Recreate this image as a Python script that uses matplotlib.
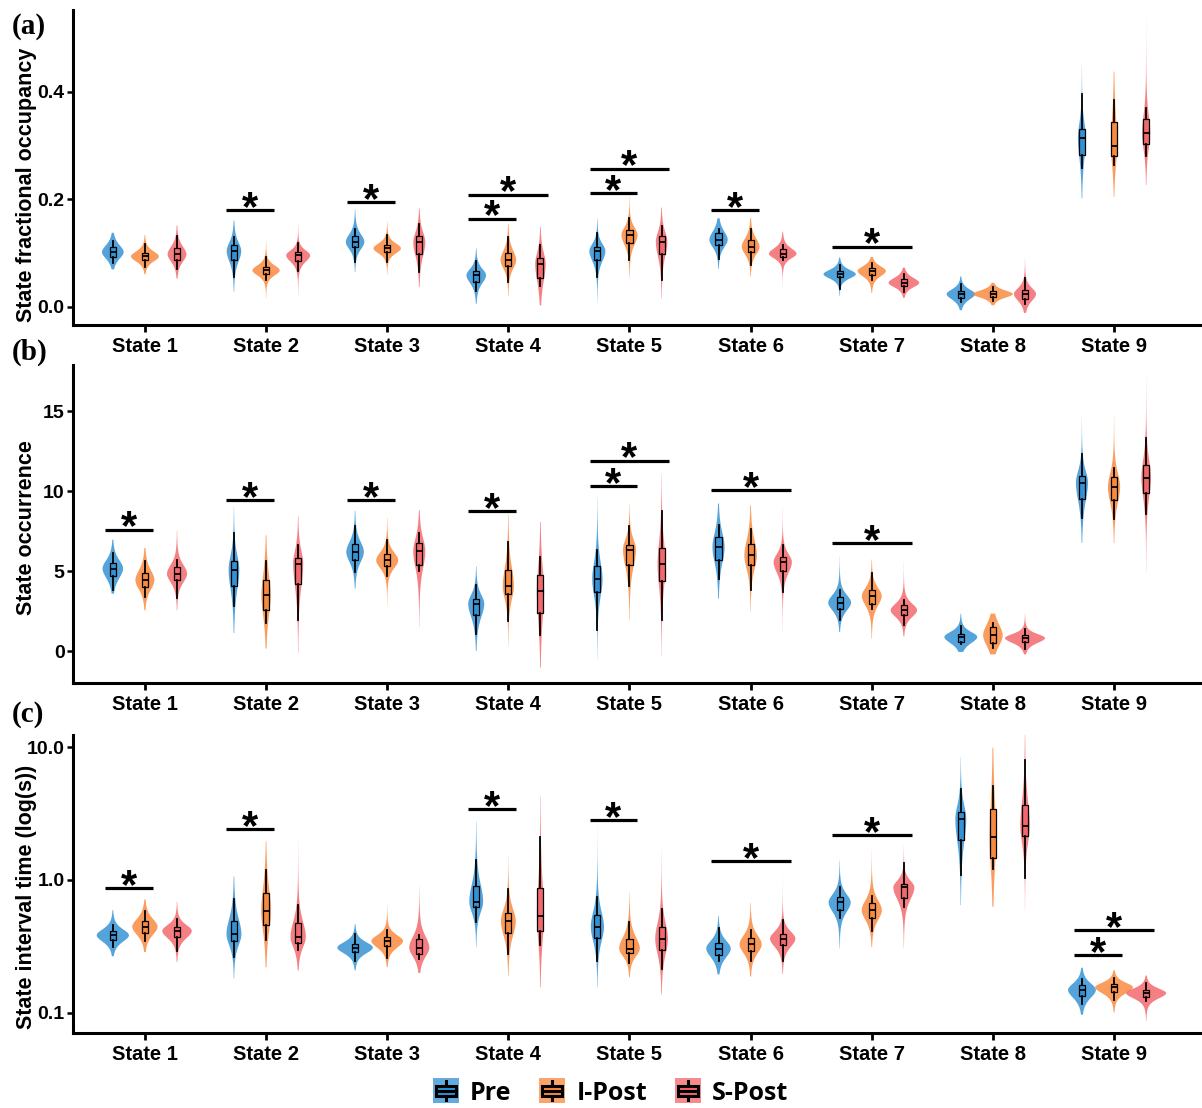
"""Three-panel violin + box chart of HMM state metrics (Pre / I-Post / S-Post)."""
import numpy as np
import matplotlib
matplotlib.use("Agg")
import matplotlib.pyplot as plt
from matplotlib.patches import Rectangle, Patch
from matplotlib.lines import Line2D
from matplotlib.legend_handler import HandlerBase
from matplotlib.colors import to_rgba

plt.rcParams["font.family"] = ["Liberation Sans", "DejaVu Sans"]
plt.rcParams["font.weight"] = "bold"

STATES = [f"State {i}" for i in range(1, 10)]
GROUPS = ["Pre", "I-Post", "S-Post"]
COLORS = ["#2F8FD3", "#F8873A", "#F26469"]

# each violin: (violin min, whisker lo, q1, median, q3, whisker hi, violin max), one per state
FO_PRE = [(0.070, 0.081, 0.093, 0.102, 0.112, 0.123, 0.138), (0.028, 0.055, 0.088, 0.104, 0.115, 0.130, 0.161),
          (0.065, 0.084, 0.111, 0.121, 0.132, 0.146, 0.181), (0.006, 0.029, 0.047, 0.059, 0.067, 0.086, 0.109),
          (0.009, 0.056, 0.088, 0.104, 0.112, 0.138, 0.165), (0.071, 0.090, 0.115, 0.125, 0.137, 0.146, 0.165),
          (0.020, 0.034, 0.055, 0.061, 0.067, 0.078, 0.092), (-0.006, 0.009, 0.016, 0.024, 0.030, 0.043, 0.057),
          (0.202, 0.258, 0.283, 0.314, 0.332, 0.396, 0.450)]
FO_IPOST = [(0.061, 0.075, 0.087, 0.094, 0.101, 0.117, 0.134), (0.016, 0.050, 0.061, 0.068, 0.075, 0.093, 0.127),
            (0.061, 0.084, 0.102, 0.109, 0.116, 0.134, 0.158), (0.020, 0.047, 0.076, 0.087, 0.101, 0.130, 0.155),
            (0.053, 0.088, 0.119, 0.134, 0.143, 0.165, 0.205), (0.057, 0.078, 0.102, 0.112, 0.124, 0.146, 0.165),
            (0.026, 0.051, 0.059, 0.067, 0.073, 0.082, 0.093), (0.003, 0.011, 0.019, 0.024, 0.029, 0.037, 0.045),
            (0.205, 0.264, 0.280, 0.300, 0.345, 0.385, 0.438)]
FO_SPOST = [(0.053, 0.071, 0.088, 0.098, 0.109, 0.132, 0.152), (0.017, 0.067, 0.086, 0.096, 0.102, 0.119, 0.154),
            (0.037, 0.065, 0.099, 0.120, 0.132, 0.154, 0.183), (0.003, 0.039, 0.053, 0.080, 0.092, 0.115, 0.149),
            (0.016, 0.050, 0.098, 0.121, 0.132, 0.150, 0.185), (0.037, 0.088, 0.093, 0.099, 0.107, 0.116, 0.140),
            (0.017, 0.028, 0.039, 0.045, 0.052, 0.061, 0.073), (-0.011, 0.006, 0.014, 0.024, 0.032, 0.053, 0.090),
            (0.227, 0.280, 0.303, 0.323, 0.350, 0.371, 0.540)]

OC_PRE = [(3.59, 3.80, 4.68, 5.16, 5.53, 6.14, 6.97), (1.13, 2.80, 4.05, 5.09, 5.64, 7.39, 9.02),
          (3.90, 4.95, 5.72, 6.20, 6.68, 7.83, 8.77), (0.00, 1.09, 2.23, 2.96, 3.28, 4.11, 5.30),
          (-0.54, 1.34, 3.70, 4.49, 5.30, 6.35, 9.60), (3.28, 4.53, 5.72, 6.51, 7.14, 7.87, 9.23),
          (1.19, 1.92, 2.65, 3.03, 3.38, 3.80, 5.89), (-0.06, 0.46, 0.56, 0.88, 1.09, 1.54, 2.34),
          (6.76, 8.35, 9.54, 10.54, 10.94, 12.36, 14.60)]
OC_IPOST = [(2.55, 3.38, 4.01, 4.43, 4.91, 5.62, 6.45), (0.15, 1.75, 2.55, 3.49, 4.43, 5.64, 7.24),
            (2.86, 4.68, 5.30, 5.68, 6.05, 6.93, 8.35), (0.29, 1.88, 3.55, 4.05, 5.05, 6.83, 8.56),
            (1.92, 4.05, 5.37, 6.35, 6.66, 7.83, 9.23), (2.44, 3.84, 5.37, 5.99, 6.72, 7.66, 9.12),
            (0.77, 2.65, 2.96, 3.44, 3.80, 4.89, 5.72), (-0.21, 0.21, 0.50, 0.98, 1.50, 1.75, 2.34),
            (6.76, 8.29, 9.48, 10.27, 10.86, 11.48, 14.76)]
OC_SPOST = [(2.55, 3.34, 4.43, 4.84, 5.26, 5.68, 7.56), (-0.13, 1.96, 4.18, 5.47, 5.85, 6.62, 8.43),
            (1.50, 5.01, 5.37, 6.24, 6.76, 7.39, 8.81), (-1.04, 0.98, 2.38, 3.74, 4.74, 5.89, 8.08),
            (-0.33, 1.92, 4.38, 5.43, 6.45, 8.77, 11.10), (1.19, 3.70, 4.99, 5.57, 5.89, 6.62, 9.02),
            (0.92, 1.61, 2.23, 2.55, 2.86, 3.22, 5.57), (-0.21, 0.15, 0.56, 0.81, 0.98, 1.40, 2.34),
            (4.95, 8.56, 9.90, 10.84, 11.63, 13.30, 17.06)]

IT_PRE = [(0.267, 0.313, 0.352, 0.384, 0.414, 0.457, 0.593), (0.181, 0.264, 0.348, 0.391, 0.493, 0.718, 1.06),
          (0.209, 0.246, 0.287, 0.310, 0.332, 0.395, 0.465), (0.313, 0.484, 0.621, 0.686, 0.901, 1.42, 2.76),
          (0.156, 0.246, 0.369, 0.444, 0.544, 0.748, 2.53), (0.195, 0.246, 0.271, 0.305, 0.336, 0.439, 0.535),
          (0.305, 0.522, 0.593, 0.678, 0.748, 0.891, 1.40), (0.647, 1.09, 2.01, 2.87, 3.23, 4.84, 8.45),
          (0.097, 0.116, 0.133, 0.149, 0.161, 0.181, 0.219)]
IT_IPOST = [(0.287, 0.348, 0.400, 0.444, 0.493, 0.583, 0.714), (0.221, 0.356, 0.457, 0.587, 0.793, 1.19, 1.95),
            (0.221, 0.261, 0.317, 0.348, 0.373, 0.419, 0.647), (0.191, 0.279, 0.400, 0.490, 0.566, 0.850, 1.55),
            (0.186, 0.237, 0.282, 0.305, 0.362, 0.484, 0.802), (0.188, 0.246, 0.292, 0.328, 0.369, 0.424, 0.674),
            (0.313, 0.414, 0.522, 0.593, 0.674, 0.757, 1.71), (0.629, 1.20, 1.46, 2.10, 3.42, 5.07, 9.88),
            (0.101, 0.125, 0.143, 0.156, 0.164, 0.184, 0.209)]
IT_SPOST = [(0.242, 0.292, 0.373, 0.414, 0.444, 0.505, 0.686), (0.209, 0.296, 0.336, 0.373, 0.471, 0.647, 1.95),
            (0.200, 0.256, 0.279, 0.310, 0.362, 0.384, 0.891), (0.156, 0.323, 0.414, 0.535, 0.865, 2.10, 4.31),
            (0.138, 0.215, 0.296, 0.362, 0.444, 0.600, 1.69), (0.197, 0.246, 0.323, 0.362, 0.395, 0.499, 1.14),
            (0.310, 0.629, 0.727, 0.881, 0.927, 1.35, 1.81), (0.586, 1.03, 2.13, 2.56, 3.69, 7.98, 13.8),
            (0.087, 0.124, 0.131, 0.141, 0.149, 0.168, 0.191)]

# significance bars: (state, group a, group b, bar height)
FO_SIG = [(2, 0, 1, 0.180), (3, 0, 1, 0.195), (4, 0, 1, 0.164), (4, 0, 2, 0.209),
          (5, 0, 1, 0.212), (5, 0, 2, 0.257), (6, 0, 1, 0.180), (7, 0, 2, 0.112)]
OC_SIG = [(1, 0, 1, 7.6), (2, 0, 1, 9.44), (3, 0, 1, 9.44), (4, 0, 1, 8.75),
          (5, 0, 1, 10.3), (5, 0, 2, 11.9), (6, 0, 2, 10.06), (7, 0, 2, 6.75)]
IT_SIG = [(1, 0, 1, 0.87), (2, 0, 1, 2.42), (4, 0, 1, 3.42), (5, 0, 1, 2.83),
          (6, 0, 2, 1.39), (7, 0, 2, 2.18), (9, 0, 1, 0.273), (9, 0, 2, 0.42)]

DODGE, MAXHW, BOXW = 0.265, 0.165, 0.05
XLIM = (0.406, 9.726)


def density(s, log):
    """smooth violin outline in plot space built from the read-off summary stats"""
    v = np.log10(s) if log else np.asarray(s, float)
    vmin, _, q1, med, q3, _, vmax = v
    half = (q3 - q1) / 2
    s_lo = ((med - q1) + half) / 2 / 0.674
    s_hi = ((q3 - med) + half) / 2 / 0.674
    t = np.linspace(vmin, vmax, 300)
    z = np.where(t < med, (med - t) / s_lo, (t - med) / s_hi)
    d = (1 + z ** 2 / 4) ** -2.5
    d /= np.trapezoid(d, t)
    return (10 ** t if log else t), d


def panel(ax, groups, sig, log, ylabel, label_y):
    shapes = [[density(s, log) for s in g] for g in groups]
    peak = max(d.max() for g in shapes for _, d in g)
    base = np.arange(1, 10)
    for gi, (g, sh) in enumerate(zip(groups, shapes)):
        pos = base + (gi - 1) * DODGE
        vp = [dict(coords=c, vals=d, mean=s[3], median=s[3], min=s[0], max=s[6])
              for s, (c, d) in zip(g, sh)]
        widths = [2 * MAXHW * d.max() / peak for _, d in sh]
        parts = ax.violin(vp, positions=pos, widths=widths, showmeans=False,
                          showextrema=False, showmedians=False)
        for b in parts["bodies"]:
            b.set_facecolor(COLORS[gi]); b.set_edgecolor("none"); b.set_alpha(0.82)
        bst = [dict(whislo=s[1], q1=s[2], med=s[3], q3=s[4], whishi=s[5], fliers=[]) for s in g]
        bp = ax.bxp(bst, positions=pos, widths=BOXW, patch_artist=True, showfliers=False,
                    showcaps=False, manage_ticks=False,
                    boxprops=dict(edgecolor="k", linewidth=0.9),
                    medianprops=dict(color="k", linewidth=1.3),
                    whiskerprops=dict(color="k", linewidth=1.3))
        for b in bp["boxes"]:
            b.set_facecolor(to_rgba(COLORS[gi], 0.85))
    for st, a, b, y in sig:
        x1, x2 = st + (a - 1) * DODGE - 0.065, st + (b - 1) * DODGE + 0.065
        ax.plot([x1, x2], [y, y], color="k", lw=2.3, solid_capstyle="butt")
        ax.annotate("*", ((x1 + x2) / 2, y), xytext=(0, -7), textcoords="offset points",
                    ha="center", va="baseline", fontsize=30, fontweight="bold")
    ax.set_xlim(*XLIM)
    ax.set_xticks(base, STATES)
    for sp in ("top", "right"):
        ax.spines[sp].set_visible(False)
    for sp in ("left", "bottom"):
        ax.spines[sp].set_linewidth(2.2)
    ax.tick_params(axis="x", length=5, width=2, labelsize=14.5, pad=4)
    ax.tick_params(axis="y", length=4, width=1.8, labelsize=14, pad=2)
    ax.tick_params(which="minor", left=False)
    ax.set_ylabel(ylabel, fontsize=15.5, fontweight="bold")
    ax.yaxis.set_label_coords(-0.032, label_y)


class BoxKey(HandlerBase):
    def create_artists(self, legend, orig, xd, yd, w, h, fs, trans):
        c = orig.get_facecolor()
        x0, y0 = -xd, -yd - 0.15 * h
        hh = h * 1.3
        bg = Rectangle((x0, y0), w, hh, fc=to_rgba(c, 0.75), ec="none", transform=trans)
        box = Rectangle((x0 + 0.12 * w, y0 + 0.3 * hh), 0.76 * w, 0.4 * hh,
                        fc=to_rgba(c, 1.0), ec="k", lw=2.2, transform=trans)
        med = Line2D([x0 + 0.12 * w, x0 + 0.88 * w], [y0 + 0.5 * hh] * 2, color="k", lw=2.2, transform=trans)
        wl = Line2D([x0 + 0.5 * w] * 2, [y0 + 0.12 * hh, y0 + 0.3 * hh], color="k", lw=2.2, transform=trans)
        wh = Line2D([x0 + 0.5 * w] * 2, [y0 + 0.7 * hh, y0 + 0.88 * hh], color="k", lw=2.2, transform=trans)
        return [bg, box, med, wl, wh]


def main():
    fig = plt.figure(figsize=(12.02, 11.08), dpi=100)
    ax_a = fig.add_axes([0.0607, 0.7067, 0.9393, 0.2843])
    ax_b = fig.add_axes([0.0607, 0.3836, 0.9393, 0.2870])
    ax_c = fig.add_axes([0.0607, 0.0677, 0.9393, 0.2689])

    panel(ax_a, [FO_PRE, FO_IPOST, FO_SPOST], FO_SIG, False, "State fractional occupancy", 0.444)
    ax_a.set_ylim(-0.0335, 0.5526)
    ax_a.set_yticks([0.0, 0.2, 0.4], ["0.0", "0.2", "0.4"])

    panel(ax_b, [OC_PRE, OC_IPOST, OC_SPOST], OC_SIG, False, "State occurrence", 0.49)
    ax_b.set_ylim(-2.0, 17.9)
    ax_b.set_yticks([0, 5, 10, 15], ["0", "5", "10", "15"])

    ax_c.set_yscale("log")
    panel(ax_c, [IT_PRE, IT_IPOST, IT_SPOST], IT_SIG, True, "State interval time (log(s))", 0.456)
    ax_c.set_ylim(0.0707, 12.3)
    ax_c.set_yticks([0.1, 1.0, 10.0], ["0.1", "1.0", "10.0"])
    ax_c.yaxis.set_minor_locator(matplotlib.ticker.NullLocator())

    for lab, y in [("(a)", 1 - 26 / 1108), ("(b)", 1 - 352 / 1108), ("(c)", 1 - 714 / 1108)]:
        fig.text(0.010, y, lab, family=["Liberation Serif", "DejaVu Serif"], fontweight="bold",
                 fontsize=21, va="center", ha="left")

    handles = [Patch(facecolor=c, label=g) for g, c in zip(GROUPS, COLORS)]
    fig.legend(handles=handles, loc="center", bbox_to_anchor=(0.508, 1 - 1093 / 1108), ncol=3,
               frameon=False, handler_map={Patch: BoxKey()}, handlelength=1.05, handleheight=0.8,
               handletextpad=0.45, columnspacing=1.1,
               prop=dict(family=["Open Sans", "DejaVu Sans"], weight="bold", size=18))
    fig.savefig("out.png", dpi=100)


if __name__ == "__main__":
    main()
